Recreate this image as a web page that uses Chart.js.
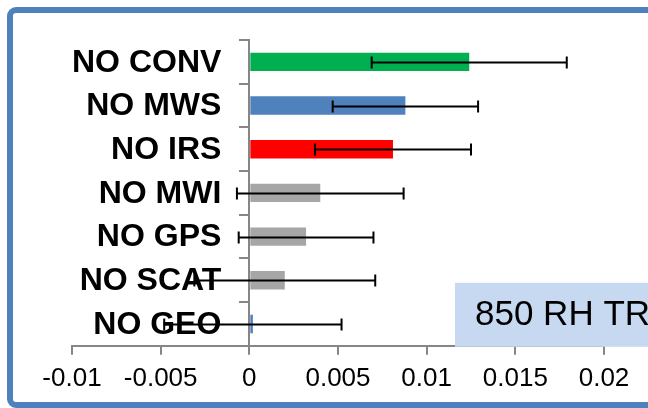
<!DOCTYPE html>
<html>
<head>
<meta charset="utf-8">
<script src="https://cdn.jsdelivr.net/npm/chart.js@4/dist/chart.umd.min.js"></script>
<style>
  html, body { margin: 0; padding: 0; background: #fff; }
  #wrap { position: relative; width: 648px; height: 408px; overflow: hidden; }
  #chart { position: absolute; left: 0; top: 0; }
  /* panel frames */
  .frame { position: absolute; border: 6px solid #4f81bd; border-radius: 9px; pointer-events: none; }
  #frameAbove { left: 7px; top: -40px; width: 700px; height: 31px; border-width: 3px; }
  #frameMain { left: 7px; top: 7px; width: 700px; height: 389px; }
</style>
</head>
<body>
<div id="wrap">
  <canvas id="chart" width="648" height="408"></canvas>
  <div class="frame" id="frameAbove"></div>
  <div class="frame" id="frameMain"></div>
</div>
<script>
// Experiments (top to bottom)
const labels = ['NO CONV', 'NO MWS', 'NO IRS', 'NO MWI', 'NO GPS', 'NO SCAT', 'NO GEO'];
// Mean impact and error bar half-width
const values = [0.0124, 0.0088, 0.0081, 0.0040, 0.0032, 0.0020, 0.0002];
const errors = [0.0055, 0.0041, 0.0044, 0.0047, 0.0038, 0.0051, 0.0050];
const barColors = ['#00b050', '#4f81bd', '#ff0000', '#a6a6a6', '#a6a6a6', '#a6a6a6', '#4f81bd'];
const xTickLabels = ['-0.01', '-0.005', '0', '0.005', '0.01', '0.015', '0.02'];
const boxText = '850 RH TR';

const FONT = '"Liberation Sans", Arial, sans-serif';

// category names, right aligned a little left of the zero line
const catLabels = {
  id: 'catLabels',
  beforeDatasetsDraw(chart) {
    const { ctx, scales: { x, y } } = chart;
    const right = x.getPixelForValue(0) - 28;
    ctx.save();
    ctx.font = `bold 32px ${FONT}`;
    ctx.textAlign = 'right';
    ctx.textBaseline = 'middle';
    ctx.fillStyle = '#000';
    y.ticks.forEach(t => {
      ctx.fillText(y.getLabelForValue(t.value), right, y.getPixelForValue(t.value) + 1);
    });
    ctx.restore();
  }
};

const errorBars = {
  id: 'errorBars',
  afterDatasetsDraw(chart) {
    const { ctx, scales: { x, y } } = chart;
    ctx.save();
    ctx.strokeStyle = '#000';
    ctx.lineWidth = 2;
    values.forEach((v, i) => {
      const yc = Math.round(y.getPixelForValue(i)) + 0.5;
      const x0 = x.getPixelForValue(v - errors[i]);
      const x1 = x.getPixelForValue(v + errors[i]);
      ctx.beginPath();
      ctx.moveTo(x0, yc); ctx.lineTo(x1, yc);
      ctx.moveTo(x0, yc - 6); ctx.lineTo(x0, yc + 6);
      ctx.moveTo(x1, yc - 6); ctx.lineTo(x1, yc + 6);
      ctx.stroke();
    });
    ctx.restore();
  }
};

// label box sitting on the bottom right of the plot
const titleBox = {
  id: 'titleBox',
  afterDraw(chart) {
    const { ctx, chartArea } = chart;
    const bottom = chartArea.bottom + 1;
    ctx.save();
    ctx.fillStyle = '#c6d9f1';
    ctx.fillRect(455, bottom - 64, 300, 64);
    ctx.fillStyle = '#000';
    ctx.font = `35px ${FONT}`;
    ctx.textBaseline = 'middle';
    ctx.fillText(boxText, 475, bottom - 31);
    ctx.restore();
  }
};

new Chart(document.getElementById('chart'), {
  type: 'bar',
  data: {
    labels,
    datasets: [{
      data: values,
      backgroundColor: barColors,
      borderWidth: 0,
      barPercentage: 0.42,
      categoryPercentage: 1
    }]
  },
  options: {
    indexAxis: 'y',
    responsive: false,
    devicePixelRatio: 1,
    animation: false,
    layout: { padding: { left: 72, right: 44, top: 40, bottom: 6 } },
    plugins: { legend: { display: false }, tooltip: { enabled: false } },
    scales: {
      x: {
        min: -0.01,
        max: 0.02,
        border: { color: '#868686', width: 2 },
        grid: { drawOnChartArea: false, color: '#868686', lineWidth: 2, tickLength: 9 },
        ticks: {
          stepSize: 0.005,
          padding: 8,
          color: '#000',
          font: { family: FONT, size: 26 },
          callback: (v, i) => xTickLabels[i]
        }
      },
      y: {
        position: { x: 0 },
        border: { color: '#868686', width: 2 },
        grid: { drawOnChartArea: false, color: '#868686', lineWidth: 2, tickLength: 9, offset: true },
        ticks: { display: false }
      }
    }
  },
  plugins: [catLabels, errorBars, titleBox]
});
</script>
</body>
</html>
